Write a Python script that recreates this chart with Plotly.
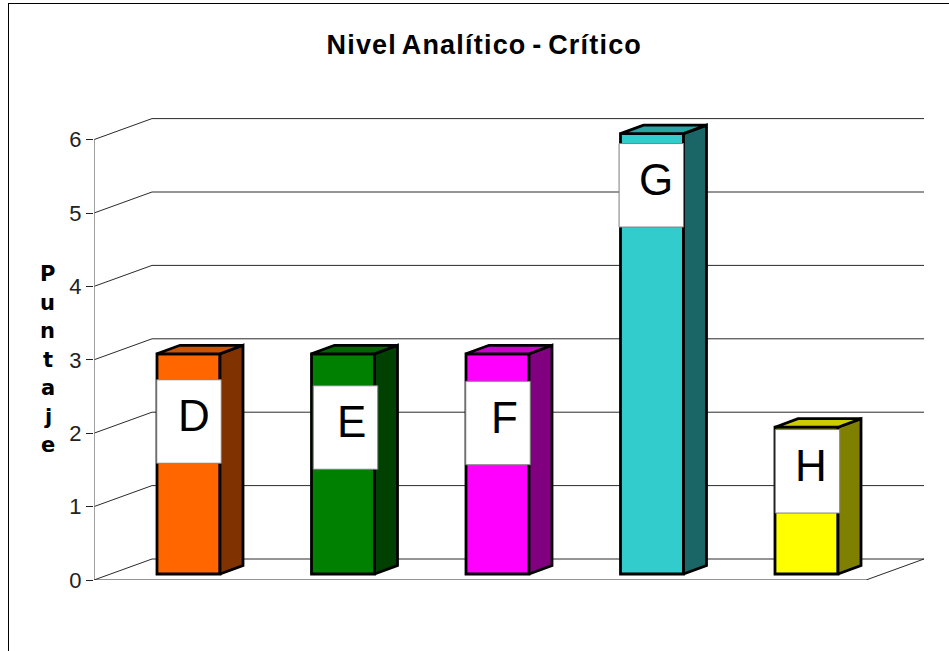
import plotly.graph_objects as go

# --- data ---
categories = ["D", "E", "F", "G", "H"]
values = [3, 3, 3, 6, 2]
y_ticks = [0, 1, 2, 3, 4, 5, 6]
title_text = "Nivel Analítico - Crítico"
y_title_letters = list("Puntaje")
front_colors = ["#FF6600", "#008000", "#FF00FF", "#33CCCC", "#FFFF00"]
side_colors = ["#803300", "#004000", "#800080", "#1A6666", "#808000"]
top_colors = ["#CC5200", "#006600", "#CC00CC", "#29A3A3", "#CCCC00"]

# --- geometry (pixels of the 949x651 page) ---
W, H = 949, 651
AX_L, AX_R, AX_T, AX_B = 94, 924, 100, 580
PX_Y = 73.4          # pixels per value unit
PX_X = 154.5         # pixels per category step
FIRST_CENTER = 188.5
WALL_DX, WALL_DY = 58 / PX_X, 21 / PX_Y
BAR_W = 63 / PX_X
BAR_DX, BAR_DY = 23 / PX_X, 8.5 / PX_Y
BAR_BASE = 6 / PX_Y
BOX_W, BOX_H = 64.5 / PX_X, 83.5 / PX_Y
EDGE = 2.8

# label placement (page pixels)
box_cx = [189, 345.5, 498, 651.3, 807.5]
box_cy = [421.5, 427.5, 423, 185.3, 471.3]
text_cx = [193.5, 351.6, 504.3, 656, 811]
TEXT_RAISE = 6

x_min = (AX_L - FIRST_CENTER) / PX_X
x_max = (AX_R - FIRST_CENTER) / PX_X
y_max = (AX_B - AX_T) / PX_Y
x_pos = list(range(len(categories)))


def paper_x(px):
    return (px - AX_L) / (AX_R - AX_L)


def paper_y(py):
    return (AX_B - py) / (AX_B - AX_T)


def val_x(px):
    return (px - FIRST_CENTER) / PX_X


def val_y(py):
    return (AX_B - py) / PX_Y


fig = go.Figure()
shapes = []
annotations = []
GRID = dict(color="#2a2a2a", width=1)

# back wall grid lines and their diagonals
for t in y_ticks:
    shapes.append(dict(type="line", xref="x", yref="y", layer="below", line=GRID,
                       x0=x_min + WALL_DX, x1=x_max, y0=t + WALL_DY, y1=t + WALL_DY))
    shapes.append(dict(type="line", xref="x", yref="y", layer="below", line=GRID,
                       x0=x_min, x1=x_min + WALL_DX, y0=t, y1=t + WALL_DY))
# vertical axis line
shapes.append(dict(type="line", xref="x", yref="y", layer="below",
                   line=dict(color="#808080", width=1.5),
                   x0=x_min, x1=x_min, y0=0, y1=max(y_ticks)))
# floor
shapes.append(dict(type="line", xref="x", yref="y", layer="below", line=GRID,
                   x0=x_min, x1=x_max - WALL_DX, y0=0, y1=0))
shapes.append(dict(type="line", xref="x", yref="y", layer="below", line=GRID,
                   x0=x_max - WALL_DX, x1=x_max, y0=0, y1=WALL_DY))

# front faces
fig.add_trace(go.Bar(
    x=x_pos, y=values, base=[BAR_BASE] * len(values), width=BAR_W,
    marker=dict(color=front_colors, line=dict(color="black", width=EDGE)),
    showlegend=False, hoverinfo="skip",
))

# side and top faces
for i, v in enumerate(values):
    r = x_pos[i] + BAR_W / 2
    l = x_pos[i] - BAR_W / 2
    top = BAR_BASE + v
    fig.add_trace(go.Scatter(
        x=[r, r + BAR_DX, r + BAR_DX, r, r],
        y=[BAR_BASE, BAR_BASE + BAR_DY, top + BAR_DY, top, BAR_BASE],
        mode="lines", fill="toself", fillcolor=side_colors[i],
        line=dict(color="black", width=EDGE), showlegend=False, hoverinfo="skip",
    ))
    fig.add_trace(go.Scatter(
        x=[l, l + BAR_DX, r + BAR_DX, r, l],
        y=[top, top + BAR_DY, top + BAR_DY, top, top],
        mode="lines", fill="toself", fillcolor=top_colors[i],
        line=dict(color="black", width=EDGE), showlegend=False, hoverinfo="skip",
    ))

# white data-label boxes with letters
for i, cat in enumerate(categories):
    cx, cy = val_x(box_cx[i]), val_y(box_cy[i])
    shapes.append(dict(type="rect", xref="x", yref="y", layer="above",
                       x0=cx - BOX_W / 2, x1=cx + BOX_W / 2,
                       y0=cy - BOX_H / 2, y1=cy + BOX_H / 2,
                       fillcolor="white", line=dict(color="#808080", width=1)))
    annotations.append(dict(x=val_x(text_cx[i]), y=val_y(box_cy[i] - TEXT_RAISE),
                            xref="x", yref="y", text=cat,
                            showarrow=False, xanchor="center", yanchor="middle",
                            font=dict(family="Liberation Sans", size=44, color="black")))

# outer frame (left and top edges)
shapes.append(dict(type="line", xref="paper", yref="paper", layer="above",
                   line=dict(color="black", width=1),
                   x0=paper_x(8.5), x1=paper_x(8.5), y0=paper_y(3), y1=paper_y(651)))
shapes.append(dict(type="line", xref="paper", yref="paper", layer="above",
                   line=dict(color="black", width=1),
                   x0=paper_x(8), x1=paper_x(949), y0=paper_y(3.5), y1=paper_y(3.5)))

# title
annotations.append(dict(x=paper_x(484), y=paper_y(45), xref="paper", yref="paper",
                        text="<b>" + title_text + "</b>", showarrow=False,
                        xanchor="center", yanchor="middle",
                        font=dict(family="Liberation Sans", size=27, color="black")))
# stacked axis title
for k, ch in enumerate(y_title_letters):
    annotations.append(dict(x=paper_x(47.5), y=paper_y(274 + k * 28.5), xref="paper", yref="paper",
                            text="<b>" + ch + "</b>", showarrow=False,
                            xanchor="center", yanchor="middle",
                            font=dict(family="DejaVu Sans", size=21, color="black")))

fig.update_layout(
    width=W, height=H,
    margin=dict(l=AX_L, r=W - AX_R, t=AX_T, b=H - AX_B, pad=0),
    paper_bgcolor="white", plot_bgcolor="white",
    barmode="overlay", showlegend=False,
    shapes=shapes, annotations=annotations,
    xaxis=dict(range=[x_min, x_max], visible=False, fixedrange=True),
    yaxis=dict(range=[0, y_max], tickvals=y_ticks, ticks="outside", ticklen=7, tickwidth=1,
               tickcolor="#222222", showgrid=False, zeroline=False, showline=False,
               tickfont=dict(family="Liberation Sans", size=22, color="#222222"),
               fixedrange=True),
)

post = """
document.body.style.margin='0';
document.querySelectorAll('.annotation-text').forEach(function(t){
  if (t.textContent.indexOf('Nivel') === 0) {
    t.style.letterSpacing = '1.2px';
    t.style.wordSpacing = '-3px';
  }
});
"""
fig.write_html("out.html", config={"displayModeBar": False}, post_script=post)
